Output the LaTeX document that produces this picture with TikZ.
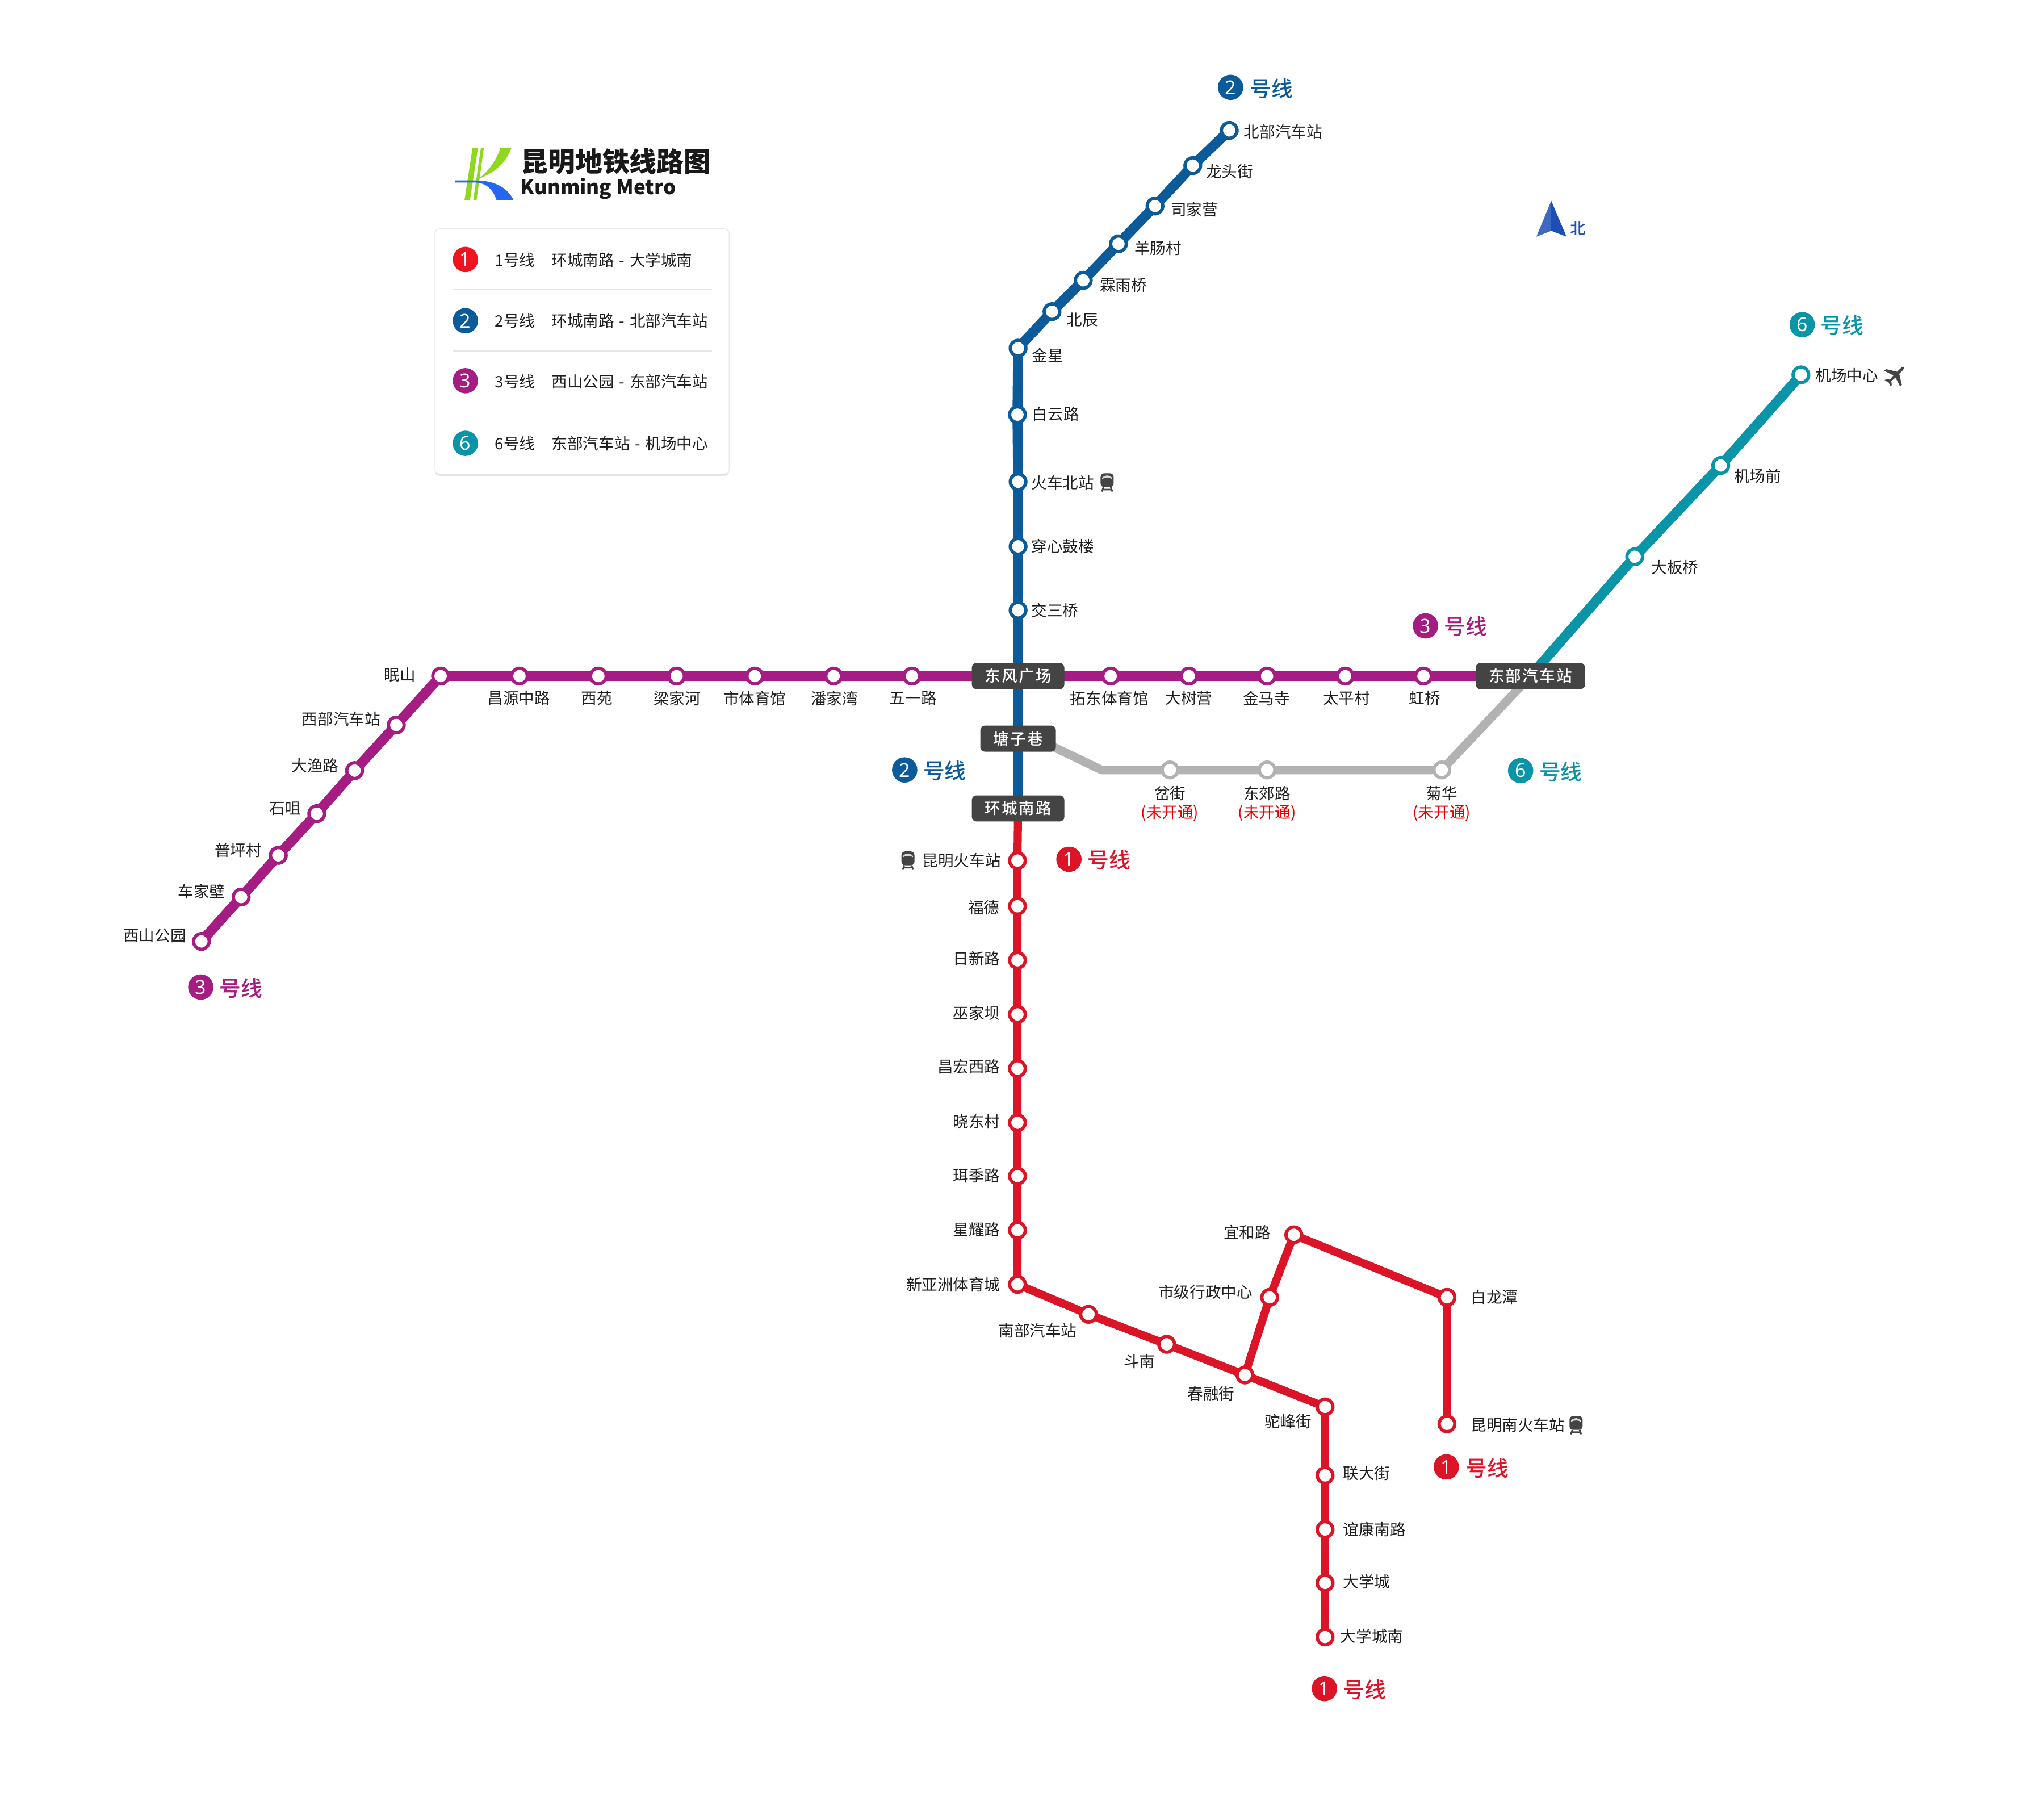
\documentclass[tikz,border=0pt]{standalone}
\usepackage{fontspec}
\setmainfont{Noto Sans CJK SC}
\newfontfamily\latinfont{Noto Sans}
\newfontfamily\mediumfont{Noto Sans CJK SC Medium}
\newfontfamily\badgefont[LetterSpace=8]{Noto Sans CJK SC Medium}
\usetikzlibrary{backgrounds,shadows}

\definecolor{metrored}{HTML}{DC1428}
\definecolor{legendred}{HTML}{EE1520}
\definecolor{metroblue}{HTML}{0B5A9A}
\definecolor{metropurple}{HTML}{A51C82}
\definecolor{metroteal}{HTML}{0A94A8}
\definecolor{metrogrey}{HTML}{B2B2B2}
\definecolor{badgegrey}{HTML}{444444}
\definecolor{northblue}{HTML}{1B4FB4}
\definecolor{logogreen}{HTML}{8FD81E}
\definecolor{logoblue}{HTML}{2468F2}

\tikzset{
  station/.style={circle,draw=#1,fill=white,line width=0.0625cm,minimum size=0.3cm,inner sep=0pt},
  track/.style={draw=#1,line width=0.19cm,line join=round},
  badge/.style={fill=badgegrey,text=white,rounded corners=2.5pt,minimum height=0.5cm,inner xsep=0.25cm,inner ysep=0pt,
    font=\fontsize{8.54}{10}\badgefont},
  lbl/.style={inner sep=0pt,text=black!88,font=\fontsize{8.54}{10}\selectfont},
  closed/.style={inner sep=0pt,text=red!90!black,font=\fontsize{8.54}{10}\selectfont},
  numdot/.style={circle,fill=#1,text=white,minimum size=0.485cm,inner sep=0pt,font=\fontsize{10.5}{12}\latinfont},
  linename/.style={inner sep=0pt,text=#1,font=\fontsize{11.7}{14}\mediumfont},
  trainicon/.pic={
    \fill[badgegrey,rounded corners=0.07cm] (-5,-7) rectangle (5,3.6);
    \fill[white!85!black] (-3.8,-3.6) .. controls (-2,-6) and (2,-6) .. (3.8,-3.6) -- (3.8,-2.6) .. controls (2,-4) and (-2,-4) .. (-3.8,-2.6) -- cycle;
    \draw[badgegrey,line width=0.03cm] (-2.8,3.6) -- (-4,7) (2.8,3.6) -- (4,7) (-3.4,5.4) -- (3.4,5.4);
  },
  planeicon/.pic={
    \fill[badgegrey] (0,-9.6) .. controls (0.9,-8.8) and (1.1,-7.5) .. (1.1,-6.5) -- (1.1,-3) -- (8.6,1.6) -- (8.6,3.4)
      -- (1.1,1) -- (0.8,5.2) -- (3.2,7.2) -- (3.2,8.4) -- (0,7.4) -- (-3.2,8.4) -- (-3.2,7.2) -- (-0.8,5.2) -- (-1.1,1)
      -- (-8.6,3.4) -- (-8.6,1.6) -- (-1.1,-3) -- (-1.1,-6.5) .. controls (-1.1,-7.5) and (-0.9,-8.8) .. (0,-9.6) -- cycle;
  }
}

\begin{document}
\begin{tikzpicture}[x=0.025cm,y=-0.025cm]
\useasboundingbox (0,0) rectangle (1568,1385);

% {Logo and title};
\fill[logogreen] (362.5,113.3) -- (366.7,113.3) -- (360.5,153.6) -- (356.3,153.6) -- cycle;
\fill[logogreen] (368.9,113.3) -- (371.2,113.3) -- (365.5,153.6) -- (363,153.6) -- cycle;
\fill[logogreen] (384,113.3) -- (392.3,113.3) .. controls (388,126) and (378,133) .. (367.5,137) .. controls (376,130) and (381,122) .. (384,113.3) -- cycle;
\fill[logoblue] (349,138.3) -- (364,138.3) .. controls (378,138.3) and (389,143) .. (394,153.6) -- (381,153.6) .. controls (378,145) and (373,140) .. (364,140) -- (349,140) -- cycle;
\node[inner sep=0pt,anchor=west,text=black!90,font=\fontsize{14.8}{18}\bfseries\selectfont] (title) at (399.5,124) {昆明地铁线路图};
\node[inner sep=0pt,anchor=west,text=black!90,font=\fontsize{10.85}{14}\bfseries\selectfont] (subtitle) at (399,144.5) {Kunming Metro};

% {Legend};
\node[fill=white,draw=black!9,rounded corners=2.5pt,minimum width=5.64cm,minimum height=4.7cm,
  drop shadow={shadow xshift=0pt,shadow yshift=-1pt,opacity=.2}] (card) at (446.5,269.5) {};
\draw[black!10,line width=0.02cm] (347,222) -- (546,222) (347,269) -- (546,269) (347,316) -- (546,316);
\node[numdot=legendred] (legend1) at (357,199) {1};
\node[numdot=metroblue] (legend2) at (357,246) {2};
\node[numdot=metropurple] (legend3) at (357,292) {3};
\node[numdot=metroteal] (legend6) at (357,340) {6};
\node[lbl,anchor=west] (legend1a) at (379.5,199.5) {1号线};
\node[lbl,anchor=west] (legend1b) at (423,199.5) {环城南路\hspace{0.8pt} - \hspace{0.8pt}大学城南};
\node[lbl,anchor=west] (legend2a) at (379.5,246) {2号线};
\node[lbl,anchor=west] (legend2b) at (423,246) {环城南路\hspace{0.8pt} - \hspace{0.8pt}北部汽车站};
\node[lbl,anchor=west] (legend3a) at (379.5,292.5) {3号线};
\node[lbl,anchor=west] (legend3b) at (423,292.5) {西山公园\hspace{0.8pt} - \hspace{0.8pt}东部汽车站};
\node[lbl,anchor=west] (legend6a) at (379.5,340) {6号线};
\node[lbl,anchor=west] (legend6b) at (423,340) {东部汽车站\hspace{0.8pt} - \hspace{0.8pt}机场中心};

% {North arrow};
\fill[northblue!85!white] (1190,154) -- (1178.6,181.5) -- (1190,177) -- cycle;
\fill[northblue] (1190,154) -- (1201.7,181.5) -- (1190,177) -- cycle;
\node[inner sep=0pt,text=northblue,font=\fontsize{8.54}{10}\mediumfont] (north) at (1210.5,175) {北};

% {Interchanges};
\node[badge] (dongfeng) at (781,518.5) {东风广场};
\node[badge] (tangzi) at (781,566.5) {塘子巷};
\node[badge] (huancheng) at (781,620) {环城南路};
\node[badge] (dongbu) at (1174,518.5) {东部汽车站};

% {Line 2};
\node[station=metroblue] (beibu) at (943,100) {};
\node[station=metroblue] (longtou) at (915,127) {};
\node[station=metroblue] (sijia) at (886,158) {};
\node[station=metroblue] (yangchang) at (858,187) {};
\node[station=metroblue] (linyu) at (831,215) {};
\node[station=metroblue] (beichen) at (807,239) {};
\node[station=metroblue] (jinxing) at (781,267) {};
\node[station=metroblue] (baiyun) at (780.5,318) {};
\node[station=metroblue] (huochebei) at (781,369.5) {};
\node[station=metroblue] (chuanxin) at (781,419) {};
\node[station=metroblue] (jiaosan) at (781,468) {};
\node[lbl,anchor=west] (beibu-l) at (954,101) {北部汽车站};
\node[lbl,anchor=west] (longtou-l) at (925,131.5) {龙头街};
\node[lbl,anchor=west] (sijia-l) at (898,160.5) {司家营};
\node[lbl,anchor=west] (yangchang-l) at (870,190.5) {羊肠村};
\node[lbl,anchor=west] (linyu-l) at (843.5,218.5) {霖雨桥};
\node[lbl,anchor=west] (beichen-l) at (818,245.5) {北辰};
\node[lbl,anchor=west] (jinxing-l) at (791.5,272.5) {金星};
\node[lbl,anchor=west] (baiyun-l) at (791.5,317.5) {白云路};
\node[lbl,anchor=west] (huochebei-l) at (791,370) {火车北站};
\node[lbl,anchor=west] (chuanxin-l) at (791,419) {穿心鼓楼};
\node[lbl,anchor=west] (jiaosan-l) at (791,468) {交三桥};
\pic at (849.3,370) {trainicon};

% {Line 3};
\node[station=metropurple] (xishan) at (154.5,722) {};
\node[station=metropurple] (chejia) at (185,688) {};
\node[station=metropurple] (puping) at (213.5,656) {};
\node[station=metropurple] (shiju) at (243,624) {};
\node[station=metropurple] (dayu) at (272,591) {};
\node[station=metropurple] (xibu) at (304,556) {};
\node[station=metropurple] (mianshan) at (338,518.5) {};
\node[station=metropurple] (changyuan) at (398.5,518.5) {};
\node[station=metropurple] (xiyuan) at (459,518.5) {};
\node[station=metropurple] (lianghe) at (519,518.5) {};
\node[station=metropurple] (shiti) at (579,518.5) {};
\node[station=metropurple] (panjia) at (639.5,518.5) {};
\node[station=metropurple] (wuyi) at (699.5,518.5) {};
\node[station=metropurple] (tuodong) at (852,518.5) {};
\node[station=metropurple] (dashu) at (912,518.5) {};
\node[station=metropurple] (jinma) at (972,518.5) {};
\node[station=metropurple] (taiping) at (1032,518.5) {};
\node[station=metropurple] (hongqiao) at (1092,518.5) {};
\node[lbl,anchor=east] (xishan-l) at (143,717.5) {西山公园};
\node[lbl,anchor=east] (chejia-l) at (173,684) {车家壁};
\node[lbl,anchor=east] (puping-l) at (201,652) {普坪村};
\node[lbl,anchor=east] (shiju-l) at (231,620) {石咀};
\node[lbl,anchor=east] (dayu-l) at (260,587) {大渔路};
\node[lbl,anchor=east] (xibu-l) at (292,551.5) {西部汽车站};
\node[lbl,anchor=east] (mianshan-l) at (319,517.5) {眠山};
\node[lbl] (changyuan-l) at (398,535.5) {昌源中路};
\node[lbl] (xiyuan-l) at (458,535.5) {西苑};
\node[lbl] (lianghe-l) at (519.5,535.5) {梁家河};
\node[lbl] (shiti-l) at (579,535.5) {市体育馆};
\node[lbl] (panjia-l) at (640,535.5) {潘家湾};
\node[lbl] (wuyi-l) at (700.5,535.5) {五一路};
\node[lbl] (tuodong-l) at (851,535.5) {拓东体育馆};
\node[lbl] (dashu-l) at (912,535.5) {大树营};
\node[lbl] (jinma-l) at (971.5,535.5) {金马寺};
\node[lbl] (taiping-l) at (1033,535.5) {太平村};
\node[lbl] (hongqiao-l) at (1093,535.5) {虹桥};

% {Line 6};
\node[station=metroteal] (daban) at (1254,427) {};
\node[station=metroteal] (jichangqian) at (1320,357) {};
\node[station=metroteal] (jichang) at (1381.5,287.5) {};
\node[lbl,anchor=west] (daban-l) at (1266.5,435) {大板桥};
\node[lbl,anchor=west] (jichangqian-l) at (1330,365) {机场前};
\node[lbl,anchor=west] (jichang-l) at (1392.5,288) {机场中心};
\pic[rotate=-45] at (1454,288) {planeicon};

% {Line not open};
\coordinate (tangzi-in) at (795,566.5);
\coordinate (bend) at (845,590.5);
\node[station=metrogrey] (chajie) at (897.5,590.5) {};
\node[station=metrogrey] (dongjiao) at (972,590.5) {};
\node[station=metrogrey] (juhua) at (1106,590.5) {};
\node[lbl] (chajie-l) at (897.5,608.5) {岔街};
\node[lbl] (dongjiao-l) at (972,608.5) {东郊路};
\node[lbl] (juhua-l) at (1106,608.5) {菊华};
\node[closed] (chajie-c) at (897.5,623.5) {(未开通)};
\node[closed] (dongjiao-c) at (972,623.5) {(未开通)};
\node[closed] (juhua-c) at (1106,623.5) {(未开通)};

% {Line 1};
\node[station=metrored] (kunming) at (780.5,660) {};
\node[station=metrored] (fude) at (780.5,695) {};
\node[station=metrored] (rixin) at (780.5,736.5) {};
\node[station=metrored] (wujia) at (780.5,778) {};
\node[station=metrored] (changhong) at (780.5,819.5) {};
\node[station=metrored] (xiaodong) at (780.5,861) {};
\node[station=metrored] (erji) at (780.5,902) {};
\node[station=metrored] (xingyao) at (780.5,943.5) {};
\node[station=metrored] (xinyazhou) at (780.5,985) {};
\node[station=metrored] (nanbu) at (835,1008) {};
\node[station=metrored] (dounan) at (895,1031) {};
\node[station=metrored] (chunrong) at (955,1054.5) {};
\node[station=metrored] (tuofeng) at (1016.5,1079) {};
\node[station=metrored] (lianda) at (1016.5,1131.5) {};
\node[station=metrored] (yikang) at (1016.5,1173) {};
\node[station=metrored] (daxue) at (1016.5,1214) {};
\node[station=metrored] (daxuenan) at (1016.5,1255.5) {};
\node[station=metrored] (shiji) at (974,995) {};
\node[station=metrored] (yihe) at (992.5,947) {};
\node[station=metrored] (bailong) at (1110,995) {};
\node[station=metrored] (kunmingnan) at (1110,1092) {};
\node[lbl,anchor=east] (kunming-l) at (768,660) {昆明火车站};
\node[lbl,anchor=east] (fude-l) at (767,696) {福德};
\node[lbl,anchor=east] (rixin-l) at (767.5,735) {日新路};
\node[lbl,anchor=east] (wujia-l) at (767.5,777) {巫家坝};
\node[lbl,anchor=east] (changhong-l) at (767.5,818) {昌宏西路};
\node[lbl,anchor=east] (xiaodong-l) at (767.5,860) {晓东村};
\node[lbl,anchor=east] (erji-l) at (767.5,901.5) {珥季路};
\node[lbl,anchor=east] (xingyao-l) at (767.5,943) {星耀路};
\node[lbl,anchor=east] (xinyazhou-l) at (767.5,985) {新亚洲体育城};
\node[lbl] (nanbu-l) at (796,1020.5) {南部汽车站};
\node[lbl] (dounan-l) at (874,1044) {斗南};
\node[lbl] (chunrong-l) at (929,1069) {春融街};
\node[lbl] (tuofeng-l) at (988,1090) {驼峰街};
\node[lbl,anchor=west] (lianda-l) at (1030,1130) {联大街};
\node[lbl,anchor=west] (yikang-l) at (1030,1173) {谊康南路};
\node[lbl,anchor=west] (daxue-l) at (1030,1213) {大学城};
\node[lbl,anchor=west] (daxuenan-l) at (1028,1255) {大学城南};
\node[lbl,anchor=east] (shiji-l) at (961,991) {市级行政中心};
\node[lbl,anchor=east] (yihe-l) at (975,945) {宜和路};
\node[lbl,anchor=west] (bailong-l) at (1128,995) {白龙潭};
\node[lbl,anchor=west] (kunmingnan-l) at (1128,1093) {昆明南火车站};
\pic at (696.5,660) {trainicon};
\pic at (1209,1093) {trainicon};

% {Line names};
\node[numdot=metroblue] (name2a) at (944,67) {2};
\node[linename=metroblue,anchor=west] (name2at) at (958.5,68) {号线};
\node[numdot=metroteal] (name6a) at (1382.5,249) {6};
\node[linename=metroteal,anchor=west] (name6at) at (1396.5,249.5) {号线};
\node[numdot=metropurple] (name3a) at (1093.5,480) {3};
\node[linename=metropurple,anchor=west] (name3at) at (1107.5,480.5) {号线};
\node[numdot=metroblue] (name2b) at (694,590.5) {2};
\node[linename=metroblue,anchor=west] (name2bt) at (708,591) {号线};
\node[numdot=metroteal] (name6b) at (1166.5,591) {6};
\node[linename=metroteal,anchor=west] (name6bt) at (1180.5,592) {号线};
\node[numdot=metrored] (name1a) at (820,659) {1};
\node[linename=metrored,anchor=west] (name1at) at (834,659.5) {号线};
\node[numdot=metropurple] (name3b) at (154,757) {3};
\node[linename=metropurple,anchor=west] (name3bt) at (168,758) {号线};
\node[numdot=metrored] (name1b) at (1109.5,1125) {1};
\node[linename=metrored,anchor=west] (name1bt) at (1124,1126) {号线};
\node[numdot=metrored] (name1c) at (1016,1295) {1};
\node[linename=metrored,anchor=west] (name1ct) at (1030,1296) {号线};

% {The tracks go under the stations};
\begin{pgfonlayer}{background}
\fill[white] (0,0) rectangle (1568,1385);
\draw[track=metrogrey,line width=0.165cm] (tangzi-in) -- (bend) -- (chajie.center) -- (dongjiao.center) -- (juhua.center) -- (dongbu.center);
\draw[track=metroteal] (dongbu.center) -- (daban.center) -- (jichangqian.center) -- (jichang.center);
\draw[track=metroblue] (huancheng.center) -- (tangzi.center) -- (dongfeng.center) -- (jiaosan.center) -- (chuanxin.center) -- (huochebei.center) -- (baiyun.center) -- (jinxing.center)
  -- (beichen.center) -- (linyu.center) -- (yangchang.center) -- (sijia.center) -- (longtou.center) -- (beibu.center);
\draw[track=metropurple] (xishan.center) -- (chejia.center) -- (puping.center) -- (shiju.center) -- (dayu.center) -- (xibu.center) -- (mianshan.center) -- (changyuan.center) -- (xiyuan.center)
  -- (lianghe.center) -- (shiti.center) -- (panjia.center) -- (wuyi.center) -- (dongfeng.center) -- (tuodong.center) -- (dashu.center) -- (jinma.center) -- (taiping.center) -- (hongqiao.center) -- (dongbu.center);
\draw[track=metrored,line width=0.155cm] (huancheng.center) -- (kunming.center) -- (fude.center) -- (rixin.center) -- (wujia.center) -- (changhong.center) -- (xiaodong.center) -- (erji.center) -- (xingyao.center)
  -- (xinyazhou.center) -- (nanbu.center) -- (dounan.center) -- (chunrong.center) -- (tuofeng.center) -- (lianda.center) -- (yikang.center) -- (daxue.center) -- (daxuenan.center);
\draw[track=metrored,line width=0.155cm] (chunrong.center) -- (shiji.center) -- (yihe.center) -- (bailong.center) -- (kunmingnan.center);
\end{pgfonlayer}

\end{tikzpicture}
\end{document}
